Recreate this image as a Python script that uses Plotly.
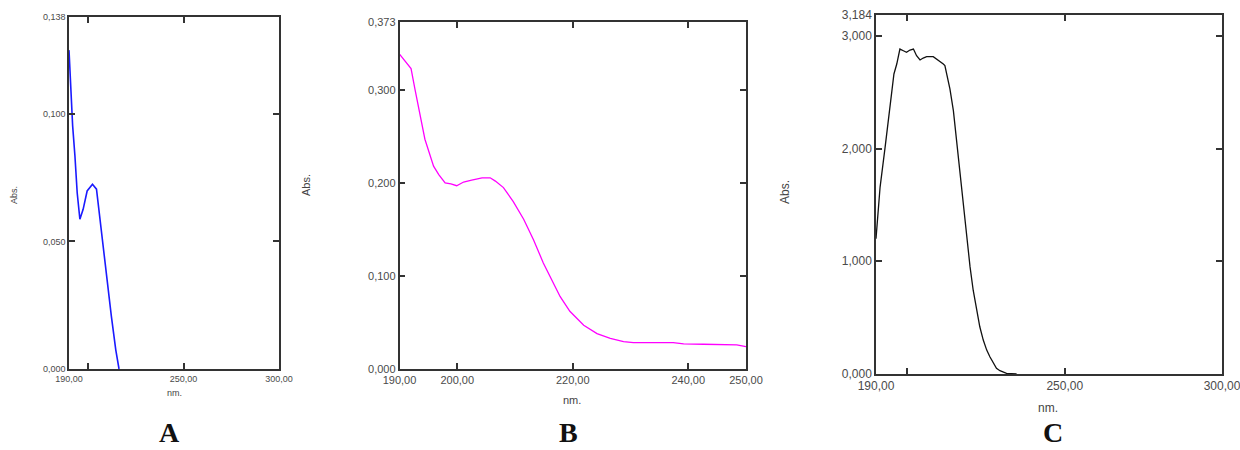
import plotly.graph_objects as go

W, H = 1240, 450

# ---- Data ----
a_nm = [190.0, 190.5, 191.0, 191.9, 193.1, 194.3, 195.7, 197.4, 199.5, 202.3, 204.4, 207.0, 209.9, 212.2, 214.5, 216.2]
a_abs = [0.125, 0.117, 0.107, 0.0954, 0.0836, 0.069, 0.0587, 0.0626, 0.0698, 0.0724, 0.0705, 0.0534, 0.0363, 0.0206, 0.0075, 0.0]

b_nm = [190.0, 191.0, 192.0, 192.7, 193.6, 194.4, 195.9, 196.8, 197.9, 198.9, 199.9, 201.1, 202.5, 204.3, 205.7,
        206.6, 208.0, 209.7, 211.5, 213.2, 214.9, 216.7, 217.8, 219.5, 221.9, 224.2, 226.5, 228.8, 230.5, 237.4,
        239.2, 242.6, 248.4, 250.0]
b_abs = [0.3385, 0.331, 0.323, 0.300, 0.270, 0.247, 0.218, 0.209, 0.200, 0.199, 0.197, 0.201, 0.203, 0.2055, 0.2055,
         0.202, 0.195, 0.180, 0.161, 0.139, 0.114, 0.092, 0.078, 0.062, 0.047, 0.038, 0.033, 0.0295, 0.0284, 0.0284,
         0.027, 0.0266, 0.0259, 0.0241]

c_nm = [190.0, 191.3, 192.9, 194.5, 195.7, 196.6, 197.6, 198.7, 199.7, 200.8, 201.9, 202.9, 204.0, 205.0, 206.1,
        208.2, 209.3, 211.4, 211.9, 212.7, 213.5, 214.6, 215.6, 216.7, 217.7, 218.8, 219.9, 220.9, 222.0, 223.0,
        224.1, 225.2, 226.2, 227.3, 228.3, 229.4, 230.5, 231.5, 234.7]
c_abs = [1.20, 1.658, 2.012, 2.366, 2.661, 2.749, 2.882, 2.867, 2.853, 2.873, 2.882, 2.823, 2.785, 2.802, 2.814,
         2.814, 2.793, 2.749, 2.735, 2.631, 2.528, 2.336, 2.071, 1.835, 1.540, 1.245, 0.950, 0.743, 0.566, 0.419,
         0.301, 0.212, 0.153, 0.094, 0.050, 0.029, 0.015, 0.006, 0.0]

a_xticks = [190, 200, 250, 300]
a_xtext = ["190,00", "", "250,00", "300,00"]
a_yticks = [0, 0.05, 0.1, 0.138]
a_ytext = ["0,000", "0,050", "0,100", "0,138"]

b_xticks = [190, 200, 220, 240, 250]
b_xtext = ["190,00", "200,00", "220,00", "240,00", "250,00"]
b_yticks = [0, 0.1, 0.2, 0.3, 0.373]
b_ytext = ["0,000", "0,100", "0,200", "0,300", "0,373"]

c_xticks = [190, 200, 250, 300]
c_xtext = ["190,00", "", "250,00", "300,00"]
c_yticks = [0, 1, 2, 3, 3.184]
c_ytext = ["0,000", "1,000", "2,000", "3,000", "3,184"]


def px_x(p):
    return p / W


def px_y(p):
    return 1 - p / H


fig = go.Figure()
fig.add_trace(go.Scatter(x=a_nm, y=a_abs, mode="lines", line=dict(color="#1a1aff", width=1.6),
                         xaxis="x", yaxis="y", showlegend=False))
fig.add_trace(go.Scatter(x=b_nm, y=b_abs, mode="lines", line=dict(color="#ff00ff", width=1.3),
                         xaxis="x2", yaxis="y2", showlegend=False))
fig.add_trace(go.Scatter(x=c_nm, y=c_abs, mode="lines", line=dict(color="#111111", width=1.3),
                         xaxis="x3", yaxis="y3", showlegend=False))

axis_common = dict(showline=True, linecolor="#333333", linewidth=1.5, mirror="ticks", ticks="inside",
                   ticklen=6, tickwidth=1.5, tickcolor="#333333", showgrid=False, zeroline=False,
                   fixedrange=True, automargin=False, ticklabeloverflow="allow")

font_a = dict(family="Liberation Sans Narrow, Liberation Sans, Arial", size=9, color="#4a4a4a")
font_b = dict(family="Liberation Sans, Arial", size=11, color="#4a4a4a")
font_c = dict(family="Liberation Sans, Arial", size=12, color="#4a4a4a")

layout = dict(
    width=W, height=H, margin=dict(l=0, r=0, t=0, b=0, autoexpand=False), autosize=False,
    paper_bgcolor="white", plot_bgcolor="white",
    xaxis=dict(domain=[px_x(69), px_x(279)], anchor="y", range=[190, 300], tickvals=a_xticks, ticktext=a_xtext,
               tickfont=font_a, **axis_common),
    yaxis=dict(domain=[px_y(369), px_y(17)], anchor="x", range=[0, 0.138], tickvals=a_yticks, ticktext=a_ytext,
               tickfont=font_a, **axis_common),
    xaxis2=dict(domain=[px_x(399.5), px_x(746)], anchor="y2", range=[190, 250], tickvals=b_xticks, ticktext=b_xtext,
                tickfont=font_b, **axis_common),
    yaxis2=dict(domain=[px_y(369), px_y(22)], anchor="x2", range=[0, 0.373], tickvals=b_yticks, ticktext=b_ytext,
                tickfont=font_b, **axis_common),
    xaxis3=dict(domain=[px_x(876), px_x(1222)], anchor="y3", range=[190, 300], tickvals=c_xticks, ticktext=c_xtext,
                tickfont=font_c, **axis_common),
    yaxis3=dict(domain=[px_y(374), px_y(15)], anchor="x3", range=[0, 3.184], tickvals=c_yticks, ticktext=c_ytext,
                tickfont=font_c, **axis_common),
)
fig.update_layout(**layout)


def ann(text, x, y, font, angle=0, yanchor="middle"):
    fig.add_annotation(text=text, x=px_x(x), y=px_y(y), xref="paper", yref="paper", showarrow=False,
                       font=font, textangle=angle, xanchor="center", yanchor=yanchor)


serif = dict(family="Liberation Serif, Times New Roman", size=28, color="#111111")
ann("<b>A</b>", 169, 450, serif, yanchor="bottom")
ann("<b>B</b>", 568, 450, serif, yanchor="bottom")
ann("<b>C</b>", 1053, 450, serif, yanchor="bottom")

ann("Abs.", 14, 195, dict(family="Liberation Sans Narrow, Liberation Sans, Arial", size=9, color="#444444"), -90)
ann("Abs.", 306, 185, dict(family="Liberation Sans, Arial", size=11, color="#444444"), -90)
ann("Abs.", 785, 192, dict(family="Liberation Sans, Arial", size=12, color="#444444"), -90)

ann("nm.", 174, 393, dict(family="Liberation Sans Narrow, Liberation Sans, Arial", size=9, color="#444444"))
ann("nm.", 572, 400, dict(family="Liberation Sans, Arial", size=11, color="#444444"))
ann("nm.", 1048, 408, dict(family="Liberation Sans, Arial", size=12, color="#444444"))

fig.write_html("out.html", config={"displayModeBar": False},
               post_script="document.body.style.margin='0';document.body.style.overflow='hidden';")
